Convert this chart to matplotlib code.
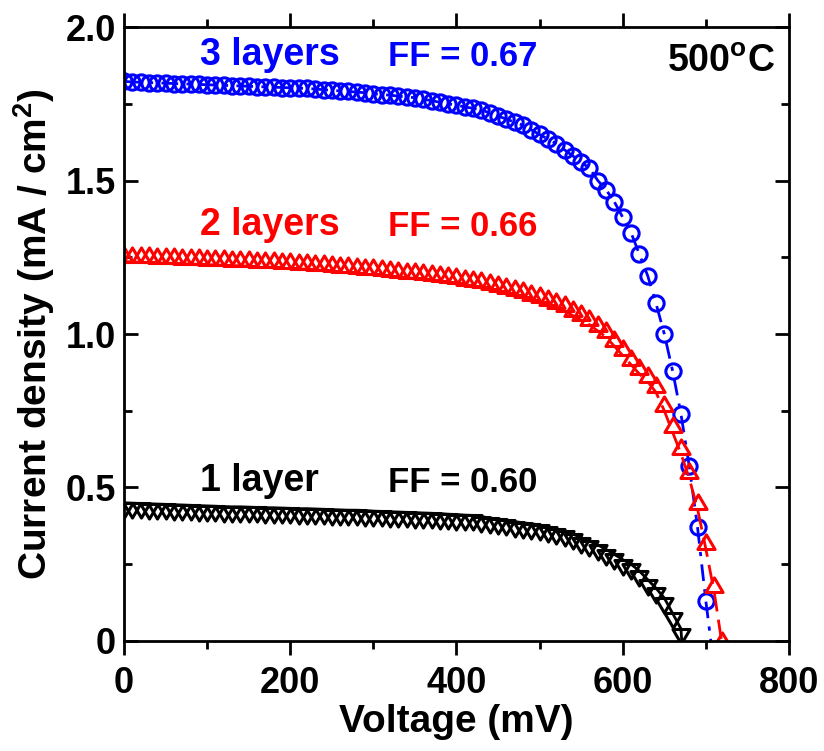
import matplotlib
matplotlib.use("Agg")
import matplotlib.pyplot as plt
import numpy as np
from matplotlib.path import Path

plt.rcParams["font.family"] = ["Liberation Sans", "DejaVu Sans"]
plt.rcParams["font.weight"] = "bold"
plt.rcParams["mathtext.fontset"] = "custom"
plt.rcParams["mathtext.rm"] = "Liberation Sans:bold"
plt.rcParams["mathtext.bf"] = "Liberation Sans:bold"

# %% data (voltage in mV, current density in mA/cm2)
v_3layers = np.arange(0, 701, 10)
j_3layers = [
    1.823, 1.821, 1.820, 1.819, 1.818, 1.817, 1.816, 1.815, 1.814, 1.813,
    1.812, 1.811, 1.810, 1.809, 1.808, 1.807, 1.806, 1.805, 1.804, 1.803,
    1.802, 1.801, 1.800, 1.798, 1.796, 1.794, 1.792, 1.790, 1.788, 1.786,
    1.783, 1.780, 1.778, 1.775, 1.772, 1.770, 1.765, 1.760, 1.755, 1.750,
    1.745, 1.740, 1.735, 1.730, 1.720, 1.710, 1.700, 1.690, 1.680, 1.665,
    1.650, 1.635, 1.620, 1.600, 1.580, 1.560, 1.540, 1.500, 1.470, 1.430,
    1.380, 1.330, 1.260, 1.190, 1.100, 1.000, 0.880, 0.740, 0.570, 0.370,
    0.130,
]

v_2layers = np.arange(0, 721, 10)
j_2layers = [
    1.236, 1.235, 1.234, 1.233, 1.232, 1.231, 1.230, 1.229, 1.228, 1.227,
    1.226, 1.225, 1.224, 1.223, 1.222, 1.221, 1.219, 1.218, 1.217, 1.215,
    1.214, 1.212, 1.211, 1.209, 1.207, 1.205, 1.203, 1.201, 1.199, 1.197,
    1.195, 1.193, 1.190, 1.187, 1.184, 1.181, 1.178, 1.175, 1.172, 1.168,
    1.165, 1.161, 1.157, 1.152, 1.146, 1.140, 1.133, 1.127, 1.120, 1.110,
    1.105, 1.095, 1.085, 1.075, 1.060, 1.045, 1.030, 1.010, 0.990, 0.960,
    0.930, 0.900, 0.870, 0.845, 0.810, 0.750, 0.680, 0.610, 0.530, 0.430,
    0.300, 0.160, -0.020,
]

v_1layer = np.arange(0, 671, 10)
j_1layer = [
    0.450, 0.449, 0.448, 0.447, 0.446, 0.445, 0.444, 0.443, 0.442, 0.441,
    0.440, 0.439, 0.438, 0.437, 0.437, 0.436, 0.435, 0.434, 0.434, 0.433,
    0.432, 0.431, 0.431, 0.430, 0.429, 0.428, 0.427, 0.426, 0.426, 0.425,
    0.423, 0.422, 0.421, 0.420, 0.419, 0.418, 0.417, 0.416, 0.415, 0.413,
    0.412, 0.410, 0.409, 0.405, 0.401, 0.397, 0.393, 0.389, 0.385, 0.382,
    0.378, 0.372, 0.365, 0.357, 0.348, 0.337, 0.325, 0.313, 0.298, 0.282,
    0.265, 0.250, 0.228, 0.200, 0.172, 0.140, 0.090, 0.040,
]

# open-circuit voltages where the lines hit zero
voc_3layers = 706
voc_1layer = 671

labels = ["3 layers", "2 layers", "1 layer"]
ff_values = [0.67, 0.66, 0.60]
colors = ["blue", "red", "black"]

# triangles with their base on the data point (as in the original plot)
tri_up = Path([(-1, 0), (1, 0), (0, 1.7), (0, 0)],
              [Path.MOVETO, Path.LINETO, Path.LINETO, Path.CLOSEPOLY])
tri_down = Path([(-1, 0), (1, 0), (0, -1.7), (0, 0)],
                [Path.MOVETO, Path.LINETO, Path.LINETO, Path.CLOSEPOLY])

# %%
fig = plt.figure(figsize=(8.24, 7.51), dpi=100)
ax = fig.add_axes([0.1505, 0.1465, 0.807, 0.8175])

ax.plot(np.append(v_3layers, voc_3layers), np.append(j_3layers, 0),
        color="blue", lw=2, ls=(0, (6, 3, 1.5, 3)))
ax.plot(v_3layers, j_3layers, ls="none", marker="o", ms=11,
        mfc="none", mec="blue", mew=2.2)

ax.plot(v_2layers, j_2layers, color="red", lw=2, ls=(0, (7, 3)))
ax.plot(v_2layers, j_2layers, ls="none", marker=tri_up, ms=21,
        mfc="none", mec="red", mew=2.2)

ax.plot(np.append(v_1layer, voc_1layer), np.append(j_1layer, 0),
        color="black", lw=2)
ax.plot(v_1layer, j_1layer, ls="none", marker=tri_down, ms=21,
        mfc="none", mec="black", mew=2.2)

ax.set_xlim(0, 800)
ax.set_ylim(0, 2.0)
ax.set_xticks([0, 200, 400, 600, 800])
ax.set_xticks(np.arange(100, 800, 200), minor=True)
ax.set_yticks([0, 0.5, 1.0, 1.5, 2.0])
ax.set_yticklabels(["0", "0.5", "1.0", "1.5", "2.0"])
ax.set_yticks([0.25, 0.75, 1.25, 1.75], minor=True)

for s in ax.spines.values():
    s.set_linewidth(2)
ax.tick_params(axis="x", which="both", direction="out", width=2,
               labelsize=26, pad=8, top=True)
ax.tick_params(axis="x", which="major", length=10)
ax.tick_params(axis="x", which="minor", length=6)
ax.tick_params(axis="y", which="both", direction="in", width=2,
               labelsize=26, pad=6, right=True)
ax.tick_params(axis="y", which="major", length=10)
ax.tick_params(axis="y", which="minor", length=6)

ax.set_xlabel("Voltage (mV)", fontsize=28, fontweight="bold", labelpad=2)
ax.set_ylabel("Current density (mA / cm$^\\mathbf{2}$)", fontsize=28,
              fontweight="bold", labelpad=6)

label_y = [1.91, 1.355, 0.52]
for lab, ff, c, y in zip(labels, ff_values, colors, label_y):
    ax.text(91, y, lab, color=c, fontsize=27, fontweight="bold", va="center")
    ax.text(318, y - 0.005, f"FF = {ff:.2f}", color=c, fontsize=25,
            fontweight="bold", va="center")
ax.text(783, 1.886, "500$^\\mathbf{o}$C", fontsize=27, fontweight="bold",
        ha="right", va="center")

fig.savefig("out.png", dpi=100)
